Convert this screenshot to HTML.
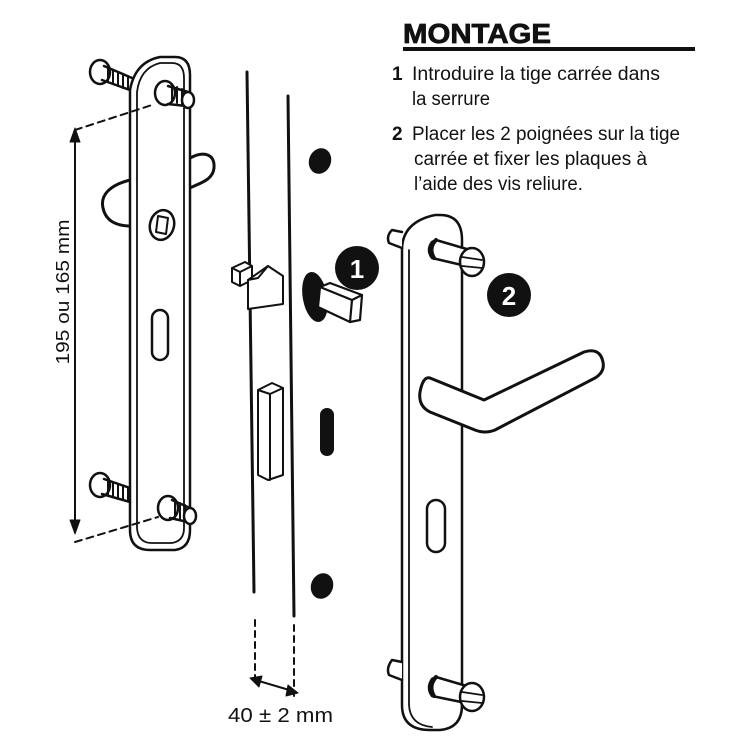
<!DOCTYPE html>
<html><head><meta charset="utf-8"><style>
html,body{margin:0;padding:0;background:#fff;width:750px;height:750px;overflow:hidden}
svg{display:block}
text{font-family:"Liberation Sans",sans-serif;fill:#111}
</style></head><body>
<svg width="750" height="750" viewBox="0 0 750 750" xmlns="http://www.w3.org/2000/svg">
<g fill="none" stroke="#111" stroke-width="2.5" stroke-linecap="round" stroke-linejoin="round">
<path d="M130 180 C110 185 100 195 103 208 C106 222 118 226 130 226" stroke-width="3"/>
<path d="M190 158 C205 150 215 155 214 168 C213 180 200 183 190 188" stroke-width="3"/>
<path d="M130 90 L130 530 Q130 550 150 550 L175 550 Q190 548 190 530 L190 75 Q190 57 175 57 L160 57 Q135 62 130 90 Z" fill="#fff"/>
<path d="M137 92 L137 528 Q138 543 152 543 L172 543 Q184 541 184 528 L184 78 Q184 63 172 63 L160 63 Q140 68 137 92" stroke-width="1.8"/>
<ellipse cx="162" cy="225" rx="12" ry="15" transform="rotate(15 162 225)"/>
<path d="M158 216 L168 218 L166 234 L156 232 Z" stroke-width="2"/>
<rect x="152" y="310" width="16" height="50" rx="8"/>
<ellipse cx="100" cy="72" rx="10" ry="12" fill="#fff"/>
<path d="M104 66 L132 78 M102 80 L130 90" />
<path d="M108 68 v14 M113 70 v14 M118 72 v14 M123 74 v14 M128 76 v12" stroke-width="2"/>
<ellipse cx="165" cy="93" rx="10" ry="12" fill="#fff"/>
<path d="M168 86 L188 92 M168 104 L186 106" />
<path d="M172 86 v16 M177 87 v16 M182 89 v16" stroke-width="2"/>
<ellipse cx="188" cy="100" rx="6" ry="8" fill="#fff"/>
<ellipse cx="100" cy="485" rx="10" ry="12" fill="#fff"/>
<path d="M104 479 L130 488 M102 494 L130 502" />
<path d="M108 481 v14 M113 483 v14 M118 485 v14 M123 486 v14 M128 488 v13" stroke-width="2"/>
<ellipse cx="168" cy="508" rx="10" ry="12" fill="#fff"/>
<path d="M172 500 L190 508 M170 518 L188 522" />
<path d="M175 501 v16 M180 503 v16 M185 505 v16" stroke-width="2"/>
<ellipse cx="190" cy="516" rx="6" ry="8" fill="#fff"/>
<line x1="75" y1="135" x2="75" y2="527" stroke-width="2"/>
<path d="M70 142 L75 128 L80 142 Z M70 520 L75 534 L80 520 Z" fill="#111" stroke-width="1"/>
<path d="M75 130 L152 105 M75 542 L158 517" stroke-width="2" stroke-dasharray="7 5"/>
<line x1="247" y1="72" x2="254" y2="592" stroke-width="3"/>
<line x1="288" y1="96" x2="294" y2="616" stroke-width="3"/>
<path d="M255 620 V686 M294 625 V696" stroke-width="2" stroke-dasharray="6 5"/>
<line x1="252" y1="679" x2="296" y2="692" stroke-width="2"/>
<path d="M250 678 L262 676 L259 687 Z M298 693 L286 696 L288 685 Z" fill="#111" stroke-width="1"/>
<path d="M232 268 L245 262 L252 266 L252 280 L240 286 L232 282 Z" fill="#fff" stroke-width="2"/>
<path d="M232 268 L240 272 L252 266 M240 272 V286" stroke-width="2"/>
<path d="M248 280 L268 266 L283 276 L283 304 L248 309 Z" fill="#fff" stroke-width="2"/>
<path d="M248 280 L258 278 L268 266" stroke-width="2"/>
<path d="M258 390 L272 383 L283 388 L283 475 L268 480 L258 475 Z" stroke-width="2"/>
<path d="M258 390 L270 394 L283 388 M270 394 V480" stroke-width="2"/>
<ellipse cx="315" cy="297" rx="11" ry="24" fill="#111" transform="rotate(-10 315 297)"/>
<path d="M320 287 L330 283 L362 295 L360 320 L350 322 L318 307 Z" fill="#fff" stroke-width="2.2"/>
<path d="M320 287 L352 300 L362 295 M352 300 L350 322" stroke-width="2.2"/>
<path d="M402 250 L402 705 Q402 730 430 730 L440 730 Q462 728 462 705 L462 240 Q462 215 440 215 L435 215 Q402 222 402 250 Z" fill="#fff"/>
<path d="M409 250 L409 705 Q410 725 432 727" stroke-width="1.8"/>
<path d="M402 232 L392 230 Q386 236 389 243 L402 248" fill="#fff"/>
<path d="M432 242 Q426 250 432 258 L466 266 L470 250 L436 240 Z" fill="#fff"/>
<path d="M436 240 Q428 248 434 258" stroke-width="4"/>
<ellipse cx="472" cy="262" rx="12" ry="14" fill="#fff"/>
<path d="M462 257 L482 260 M462 266 L482 268" stroke-width="1.8"/>
<path d="M402 662 L392 660 Q386 668 389 675 L402 680" fill="#fff"/>
<path d="M432 679 Q426 688 432 696 L466 703 L470 687 L436 677 Z" fill="#fff"/>
<path d="M436 677 Q428 686 434 696" stroke-width="4"/>
<ellipse cx="472" cy="697" rx="12" ry="14" fill="#fff"/>
<path d="M462 692 L482 695 M462 701 L482 703" stroke-width="1.8"/>
<path d="M430 378 L484 400 L584 352 Q600 347 603 362 Q605 372 595 378 L495 430 Q485 434 475 430 L430 412 Q418 406 420 392 Q423 376 430 378 Z" fill="#fff" stroke-width="3"/>
<rect x="427" y="500" width="18" height="52" rx="9"/>
</g>
<ellipse cx="320" cy="161" rx="11" ry="13" fill="#111" transform="rotate(20 320 161)"/>
<ellipse cx="322" cy="586" rx="11" ry="13" fill="#111" transform="rotate(20 322 586)"/>
<rect x="320" y="408" width="14" height="48" rx="7" fill="#111"/>
<circle cx="357" cy="268" r="22" fill="#111"/>
<text x="357" y="278" font-size="26" font-weight="bold" text-anchor="middle" style="fill:#fff">1</text>
<circle cx="509" cy="295" r="22" fill="#111"/>
<text x="509" y="305" font-size="26" font-weight="bold" text-anchor="middle" style="fill:#fff">2</text>
<text transform="translate(69 292) rotate(-90)" font-size="18" text-anchor="middle" textLength="145" lengthAdjust="spacingAndGlyphs">195 ou 165 mm</text>
<text x="228" y="722" font-size="20" textLength="105" lengthAdjust="spacingAndGlyphs">40 ± 2  mm</text>
<text x="403" y="43" font-size="28" font-weight="bold" stroke="#111" stroke-width="0.8" textLength="148" lengthAdjust="spacingAndGlyphs">MONTAGE</text>
<rect x="403" y="47" width="292" height="4" fill="#111"/>
<g font-size="19">
<text x="392" y="80" font-weight="bold">1</text>
<text x="412" y="80" textLength="248" lengthAdjust="spacingAndGlyphs">Introduire la tige carrée dans</text>
<text x="412" y="105" textLength="78" lengthAdjust="spacingAndGlyphs">la serrure</text>
<text x="392" y="140" font-weight="bold">2</text>
<text x="412" y="140" textLength="268" lengthAdjust="spacingAndGlyphs">Placer les 2 poignées sur la tige</text>
<text x="414" y="165" textLength="233" lengthAdjust="spacingAndGlyphs">carrée et fixer les plaques à</text>
<text x="414" y="190" textLength="169" lengthAdjust="spacingAndGlyphs">l’aide des vis reliure.</text>
</g>
</svg>
</body></html>
